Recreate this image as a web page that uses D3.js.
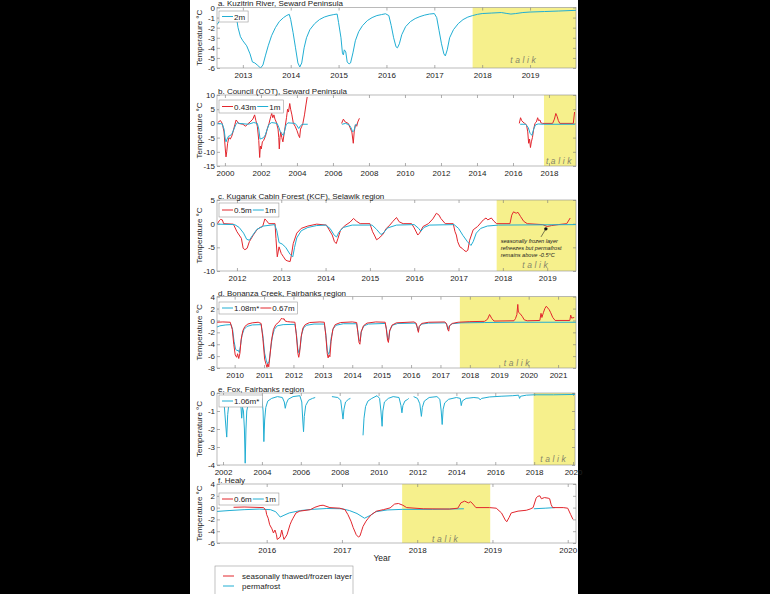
<!DOCTYPE html>
<html>
<head>
<meta charset="utf-8">
<script src="https://cdn.jsdelivr.net/npm/d3@7"></script>
<style>
  body { margin: 0; background: #000; }
  svg { display: block; font-family: "Liberation Sans", Arial, sans-serif; }
</style>
</head>
<body>
<svg id="chart" width="770" height="594"></svg>
<script>
// ---- data: [decimal year, temperature °C], null = gap in record ----

// a. Kuzitrin River, 2m
var kuzitrin2m = [[2012.46,-1.7],[2012.52,-1.3],[2012.6,-1.0],[2012.7,-0.8],[2012.8,-0.72],[2012.86,-0.8],[2012.9,-2.0],[2012.95,-2.9],[2013.0,-3.3],[2013.08,-3.8],[2013.15,-4.6],[2013.2,-5.4],[2013.25,-5.5],[2013.3,-5.7],[2013.37,-6.0],[2013.42,-5.7],[2013.47,-4.8],[2013.53,-3.8],[2013.6,-2.8],[2013.68,-2.0],[2013.76,-1.4],[2013.85,-1.0],[2013.92,-0.78],[2013.97,-0.68],[2014.0,-1.2],[2014.05,-2.5],[2014.1,-4.0],[2014.15,-5.5],[2014.19,-5.9],[2014.23,-5.5],[2014.28,-4.0],[2014.33,-3.0],[2014.4,-2.2],[2014.5,-1.6],[2014.6,-1.2],[2014.7,-0.95],[2014.8,-0.8],[2014.9,-0.7],[2014.97,-0.65],[2015.0,-1.5],[2015.05,-3.0],[2015.08,-4.5],[2015.1,-4.7],[2015.12,-4.2],[2015.15,-4.4],[2015.18,-5.4],[2015.22,-5.6],[2015.25,-5.5],[2015.3,-4.5],[2015.35,-3.3],[2015.42,-2.4],[2015.5,-1.8],[2015.6,-1.3],[2015.7,-1.0],[2015.8,-0.8],[2015.9,-0.7],[2015.98,-0.62],[2016.05,-0.8],[2016.1,-1.8],[2016.15,-3.0],[2016.2,-3.9],[2016.23,-4.0],[2016.27,-3.6],[2016.32,-2.7],[2016.4,-1.9],[2016.5,-1.4],[2016.6,-1.1],[2016.7,-0.9],[2016.8,-0.75],[2016.9,-0.65],[2017.0,-0.6],[2017.05,-1.0],[2017.1,-2.3],[2017.15,-3.6],[2017.2,-4.6],[2017.23,-4.8],[2017.27,-4.2],[2017.32,-3.0],[2017.4,-2.2],[2017.5,-1.6],[2017.6,-1.2],[2017.7,-0.95],[2017.8,-0.8],[2017.9,-0.68],[2018.0,-0.6],[2018.2,-0.55],[2018.4,-0.5],[2018.5,-0.58],[2018.6,-0.65],[2018.7,-0.6],[2018.85,-0.5],[2019.0,-0.45],[2019.3,-0.4],[2019.6,-0.35],[2019.96,-0.28]];

// b. Council (COT), 0.43m and 1m
var council043 = [[1999.6,0.3],[1999.75,1.0],[1999.85,0],[1999.95,-3],[2000.02,-9],[2000.06,-11.8],[2000.1,-10],[2000.15,-7],[2000.22,-5],[2000.3,-5.5],[2000.38,-4.5],[2000.45,-3],[2000.55,-0.5],[2000.62,1.2],[2000.68,0.8],[2000.75,0],[2001.0,-0.3],[2001.15,-1.0],[2001.25,-0.3],[2001.4,0.5],[2001.55,1.5],[2001.65,3.0],[2001.72,1.0],[2001.8,-1.0],[2001.88,-6],[2001.93,-12],[2001.97,-8],[2002.02,-9],[2002.08,-6.5],[2002.15,-6],[2002.25,-4.5],[2002.35,-2],[2002.45,0],[2002.55,2.5],[2002.6,3.5],[2002.66,2.0],[2002.72,3.0],[2002.78,1.5],[2002.85,0.5],[2002.95,-2],[2002.99,-5],[2003.02,-9],[2003.06,-5],[2003.1,-3],[2003.16,-5],[2003.22,-6.5],[2003.28,-4],[2003.35,-1],[2003.42,2],[2003.48,5],[2003.53,4],[2003.6,7],[2003.65,5],[2003.72,3],[2003.8,0],[2003.9,-1],[2004.0,-2.5],[2004.08,-4],[2004.15,-5],[2004.2,-2],[2004.27,-1],[2004.33,0],[2004.42,3],[2004.5,6.5],[2004.57,9.3],null,[2006.48,0],[2006.58,1.5],[2006.68,0.5],[2006.85,0],[2006.95,-1.5],[2007.05,-3],[2007.13,-7],[2007.18,-3],[2007.25,-0.5],[2007.32,-1],[2007.38,0.5],[2007.47,1.8],null,[2016.35,0],[2016.42,2.0],[2016.48,1.0],[2016.55,0.5],[2016.65,0],[2016.75,-0.5],[2016.82,-3],[2016.87,-7],[2016.92,-5.5],[2016.97,-8.5],[2017.02,-6.5],[2017.08,-5],[2017.15,-2],[2017.22,0],[2017.3,0.5],[2017.37,2.0],[2017.42,1.0],[2017.5,1.2],[2017.55,0.2],[2017.65,0],[2018.2,0],[2018.3,1.5],[2018.38,3.5],[2018.45,2.5],[2018.52,1.0],[2018.6,0],[2019.35,0],[2019.42,4.0]];
var council1m = [[1999.6,0],[1999.85,-0.2],[1999.95,-2],[2000.02,-5.5],[2000.06,-6.5],[2000.12,-5.5],[2000.2,-4.5],[2000.3,-4.3],[2000.4,-3.5],[2000.5,-2],[2000.6,-0.5],[2000.7,0.3],[2000.8,0],[2001.3,-0.3],[2001.6,0.3],[2001.8,0],[2001.88,-2],[2001.95,-5.5],[2002.05,-5.3],[2002.15,-5],[2002.25,-4],[2002.35,-2],[2002.45,-0.3],[2002.6,0.3],[2002.9,0],[2003.0,-1.5],[2003.08,-3],[2003.15,-3.5],[2003.25,-4.3],[2003.32,-2.5],[2003.4,-0.5],[2003.5,0.2],[2003.9,0],[2004.0,-0.8],[2004.1,-1.8],[2004.2,-0.8],[2004.3,-0.3],[2004.6,-0.3],null,[2006.5,-0.3],[2006.7,0],[2006.9,-0.5],[2007.0,-1.5],[2007.1,-3],[2007.17,-2.5],[2007.25,-0.5],[2007.35,-0.2],null,[2016.4,-0.3],[2016.7,-0.3],[2016.85,-1.5],[2016.95,-3.5],[2017.05,-4.2],[2017.15,-2],[2017.25,-0.5],[2017.4,-0.2],[2017.7,-0.3],[2019.44,-0.3]];

// c. Kugaruk Cabin Forest, 0.5m and 1m
var kcf05 = [[2011.56,0],[2011.6,0.6],[2011.63,0.9],[2011.67,0.8],[2011.7,0],[2011.92,-0.1],[2012.0,-1.7],[2012.05,-2.4],[2012.1,-3.1],[2012.14,-5.2],[2012.18,-5.5],[2012.23,-5.2],[2012.28,-3.8],[2012.37,-2.4],[2012.45,-1.3],[2012.52,-0.8],[2012.58,-0.6],[2012.63,1.0],[2012.67,0.6],[2012.72,0],[2012.86,0],[2012.88,-3.1],[2012.91,-7],[2012.95,-4.9],[2013.0,-6.3],[2013.05,-7],[2013.1,-7.7],[2013.15,-7.9],[2013.2,-8.0],[2013.23,-6.6],[2013.27,-4.2],[2013.35,-2.0],[2013.45,-1.0],[2013.6,-0.5],[2013.8,-0.1],[2014.02,-0.3],[2014.08,-1.3],[2014.15,-2.4],[2014.2,-3.8],[2014.24,-4.2],[2014.28,-3.1],[2014.34,-1.3],[2014.44,-0.4],[2014.55,0.3],[2014.63,1.1],[2014.7,0.5],[2014.78,0],[2015.0,0],[2015.06,-1.7],[2015.1,-2.4],[2015.15,-3.4],[2015.2,-3.1],[2015.29,-2.3],[2015.37,-1.0],[2015.45,-0.3],[2015.52,0.5],[2015.6,1.3],[2015.66,0.4],[2015.75,0],[2015.94,0],[2016.0,-0.9],[2016.08,-2.4],[2016.12,-2.0],[2016.2,-0.6],[2016.32,0],[2016.42,1.0],[2016.5,2.2],[2016.56,1.8],[2016.6,1.1],[2016.7,0],[2016.88,0],[2016.92,-1.7],[2016.95,-2.4],[2016.98,-3.8],[2017.03,-4.9],[2017.08,-5.2],[2017.12,-5.6],[2017.17,-5.9],[2017.21,-5.6],[2017.25,-3.5],[2017.33,-1.3],[2017.43,-0.6],[2017.56,0.8],[2017.62,1.2],[2017.66,0.8],[2017.74,1.2],[2017.8,0.5],[2017.86,0],[2018.16,0],[2018.2,1.8],[2018.24,2.5],[2018.3,2.2],[2018.34,2.4],[2018.4,1.5],[2018.47,0.5],[2018.55,0],[2018.9,-0.2],[2019.0,-0.6],[2019.1,-0.4],[2019.25,-0.2],[2019.44,0],[2019.52,1.2]];
var kcf1m = [[2011.56,-0.1],[2011.95,-0.2],[2012.05,-0.8],[2012.15,-2.0],[2012.22,-3.3],[2012.28,-3.5],[2012.35,-2.5],[2012.45,-1.2],[2012.6,-0.5],[2012.85,-0.2],[2012.9,-1.5],[2012.95,-4.0],[2013.02,-4.3],[2013.1,-5.0],[2013.2,-6.5],[2013.26,-7.0],[2013.3,-5],[2013.35,-3],[2013.45,-1.5],[2013.6,-0.8],[2013.8,-0.4],[2014.0,-0.3],[2014.1,-1.0],[2014.2,-2.5],[2014.25,-2.8],[2014.3,-1.8],[2014.4,-0.8],[2014.6,-0.3],[2015.05,-0.3],[2015.15,-1.2],[2015.25,-2.3],[2015.3,-2.0],[2015.4,-0.9],[2015.6,-0.3],[2016.0,-0.2],[2016.1,-1.0],[2016.15,-1.6],[2016.22,-0.8],[2016.35,-0.3],[2016.9,-0.2],[2017.0,-1.0],[2017.1,-2.5],[2017.2,-3.8],[2017.28,-4.6],[2017.33,-3.8],[2017.4,-2.0],[2017.5,-1.0],[2017.65,-0.5],[2017.9,-0.3],[2019.65,-0.2]];

// d. Bonanza Creek, 1.08m* and 0.67m
var bonanza108 = [[2009.4,-1.1],[2009.5,-0.9],[2009.7,-0.75],[2009.88,-0.7],[2009.93,-1.5],[2009.98,-3.5],[2010.03,-4.8],[2010.08,-5.1],[2010.12,-5.0],[2010.16,-5.4],[2010.2,-4.2],[2010.25,-2.5],[2010.32,-1.5],[2010.42,-1.0],[2010.6,-0.75],[2010.9,-0.7],[2010.96,-2.5],[2011.02,-5.5],[2011.08,-6.8],[2011.12,-7.3],[2011.17,-7.0],[2011.22,-5],[2011.28,-2.8],[2011.35,-1.5],[2011.45,-0.9],[2011.65,-0.7],[2012.05,-0.65],[2012.1,-2.2],[2012.15,-4.8],[2012.19,-5.5],[2012.23,-4.5],[2012.28,-2.3],[2012.35,-1.2],[2012.45,-0.8],[2012.7,-0.6],[2013.05,-0.6],[2013.1,-2.2],[2013.15,-5.0],[2013.19,-5.7],[2013.23,-5.3],[2013.28,-3],[2013.35,-1.4],[2013.45,-0.8],[2013.7,-0.55],[2014.15,-0.55],[2014.19,-1.8],[2014.23,-3.2],[2014.27,-3.5],[2014.31,-1.8],[2014.4,-0.9],[2014.55,-0.6],[2015.12,-0.5],[2015.16,-1.3],[2015.2,-2.9],[2015.24,-3.2],[2015.28,-1.6],[2015.37,-0.8],[2015.55,-0.5],[2016.15,-0.45],[2016.2,-1.0],[2016.24,-1.7],[2016.28,-1.0],[2016.37,-0.6],[2016.6,-0.45],[2017.18,-0.4],[2017.22,-0.8],[2017.26,-1.5],[2017.3,-0.9],[2017.4,-0.55],[2017.7,-0.4],[2018.5,-0.35],[2019.5,-0.3],[2021.61,-0.3]];
var bonanza067 = [[2009.4,-0.3],[2009.6,-0.25],[2009.85,-0.3],[2009.92,-1.5],[2009.97,-4],[2010.02,-5.8],[2010.07,-6.2],[2010.1,-5.6],[2010.14,-6.4],[2010.18,-5.5],[2010.22,-3.2],[2010.28,-1.7],[2010.35,-1.0],[2010.45,-0.6],[2010.6,-0.4],[2010.8,-0.3],[2010.9,-0.5],[2010.96,-3],[2011.02,-6.5],[2011.07,-7.4],[2011.1,-7.9],[2011.13,-7.3],[2011.16,-7.8],[2011.2,-6],[2011.25,-3.5],[2011.32,-1.5],[2011.4,-0.7],[2011.5,-0.3],[2011.56,0.1],[2011.6,0.4],[2011.64,0.2],[2011.68,0.3],[2011.72,-0.1],[2011.8,-0.2],[2011.9,-0.25],[2012.05,-0.3],[2012.1,-2.5],[2012.15,-5.5],[2012.18,-6.2],[2012.21,-5.4],[2012.26,-2.8],[2012.32,-1.3],[2012.4,-0.7],[2012.55,-0.35],[2012.9,-0.25],[2013.05,-0.3],[2013.1,-2.5],[2013.15,-5.6],[2013.18,-6.3],[2013.21,-5.8],[2013.24,-6.1],[2013.28,-3.5],[2013.34,-1.5],[2013.42,-0.7],[2013.6,-0.35],[2014.0,-0.25],[2014.15,-0.35],[2014.19,-2.0],[2014.23,-3.7],[2014.26,-4.0],[2014.3,-2.0],[2014.38,-0.9],[2014.5,-0.45],[2014.8,-0.25],[2015.12,-0.3],[2015.16,-1.5],[2015.2,-3.3],[2015.23,-3.7],[2015.27,-1.8],[2015.35,-0.8],[2015.5,-0.4],[2016.1,-0.25],[2016.18,-0.5],[2016.22,-1.4],[2016.25,-2.0],[2016.28,-1.0],[2016.36,-0.5],[2016.6,-0.3],[2017.15,-0.25],[2017.21,-0.6],[2017.25,-1.5],[2017.28,-1.8],[2017.31,-0.9],[2017.4,-0.5],[2017.6,-0.3],[2018.0,-0.2],[2018.5,-0.15],[2018.6,0.2],[2018.67,1.0],[2018.75,0.3],[2018.82,-0.1],[2019.5,-0.05],[2019.55,0.3],[2019.6,1.0],[2019.63,2.7],[2019.65,1.4],[2019.7,1.2],[2019.78,0.7],[2019.85,0.1],[2019.95,-0.05],[2020.38,0],[2020.42,1.2],[2020.45,0.5],[2020.5,1.3],[2020.55,2.0],[2020.6,2.4],[2020.65,2.1],[2020.7,1.8],[2020.75,1.3],[2020.82,0.5],[2020.9,0],[2021.4,0],[2021.43,0.9],[2021.46,0.4],[2021.55,0.5]];

// e. Fox, 1.06m*
var fox106 = [[2001.9,-0.3],[2002.05,-0.5],[2002.12,-1.5],[2002.19,-2.45],[2002.24,-1.2],[2002.3,-0.6],[2002.4,-0.4],[2002.6,-0.3],[2002.85,-0.3],[2002.92,-0.7],[2002.96,-1.4],[2003.0,-0.8],[2003.05,-1.0],[2003.1,-2.0],[2003.14,-3.9],[2003.18,-2.0],[2003.22,-1.0],[2003.3,-0.6],[2003.45,-0.35],[2003.7,-0.25],[2004.0,-0.3],[2004.06,-1.0],[2004.1,-2.7],[2004.14,-1.5],[2004.2,-0.8],[2004.3,-0.45],[2004.5,-0.3],[2004.8,-0.2],[2005.05,-0.25],[2005.15,-0.5],[2005.2,-0.85],[2005.25,-0.6],[2005.35,-0.35],[2005.6,-0.2],[2005.95,-0.15],[2006.05,-0.5],[2006.1,-1.5],[2006.14,-2.15],[2006.18,-1.3],[2006.25,-0.7],[2006.4,-0.4],[2006.6,-0.3],[2006.74,-0.25],null,[2007.6,-0.2],[2007.9,-0.25],[2008.05,-0.4],[2008.12,-1.0],[2008.17,-1.45],[2008.22,-0.9],[2008.3,-0.5],[2008.45,-0.35],[2008.55,-0.3],null,[2009.2,-2.35],[2009.25,-1.4],[2009.33,-0.75],[2009.45,-0.45],[2009.65,-0.3],[2009.92,-0.15],[2010.05,-0.3],[2010.12,-1.0],[2010.18,-1.85],[2010.22,-1.0],[2010.3,-0.5],[2010.5,-0.3],[2010.75,-0.2],[2011.05,-0.25],[2011.15,-0.7],[2011.2,-1.1],[2011.25,-0.7],[2011.35,-0.45],[2011.5,-0.35],[2011.55,-0.3],null,[2011.8,-0.2],[2012.0,-0.3],[2012.12,-0.6],[2012.2,-1.3],[2012.25,-0.8],[2012.35,-0.45],[2012.6,-0.25],[2013.0,-0.2],[2013.15,-0.35],[2013.22,-1.0],[2013.27,-1.75],[2013.32,-0.9],[2013.4,-0.55],[2013.6,-0.35],[2014.0,-0.25],[2014.2,-0.3],[2014.25,-0.7],[2014.3,-0.45],[2014.5,-0.3],[2014.9,-0.25],[2015.15,-0.28],[2015.22,-0.38],[2015.3,-0.3],[2015.7,-0.22],[2016.3,-0.18],[2016.9,-0.15],[2017.2,-0.12],[2017.25,-0.3],[2017.3,-0.18],[2017.6,-0.12],[2018.0,-0.1],[2019.0,-0.1],[2020.1,-0.08]];

// f. Healy, 0.6m and 1m
var healy06 = [[2015.56,0.05],[2015.7,0.1],[2015.96,0],[2015.99,-0.5],[2016.0,-1.2],[2016.02,-1.8],[2016.04,-2.9],[2016.07,-3.6],[2016.09,-4.3],[2016.11,-3.8],[2016.13,-4.6],[2016.14,-5.4],[2016.18,-5.0],[2016.2,-3.8],[2016.22,-4.9],[2016.23,-5.4],[2016.27,-4.6],[2016.31,-2.9],[2016.33,-2.3],[2016.35,-1.8],[2016.39,-0.9],[2016.44,-0.6],[2016.58,-0.35],[2016.64,0.05],[2016.71,0.35],[2016.75,0.4],[2016.84,0],[2016.97,-0.1],[2017.04,-0.35],[2017.08,-1.2],[2017.12,-2.3],[2017.15,-3.4],[2017.19,-4.6],[2017.22,-5.0],[2017.24,-4.8],[2017.26,-4.0],[2017.28,-3.2],[2017.32,-2.3],[2017.35,-1.8],[2017.39,-1.2],[2017.46,-0.6],[2017.55,-0.35],[2017.64,-0.05],[2017.7,0.6],[2017.75,0.7],[2017.81,0.4],[2017.86,0],[2018.08,-0.2],[2018.43,-0.25],[2018.54,-0.1],[2018.58,0.8],[2018.63,1.1],[2018.68,0.8],[2018.71,1.0],[2018.74,0.6],[2018.78,0],[2018.96,0],[2019.05,-0.1],[2019.12,-0.9],[2019.17,-2.1],[2019.19,-2.4],[2019.22,-1.7],[2019.25,-0.9],[2019.34,-0.6],[2019.45,-0.45],[2019.5,-0.25],[2019.54,0],[2019.58,1.6],[2019.6,1.9],[2019.63,2.0],[2019.65,1.5],[2019.69,1.7],[2019.74,1.6],[2019.76,1.5],[2019.78,0.5],[2019.8,0],[2019.94,0],[2020.0,-0.1],[2020.04,-1.2],[2020.07,-2.0]];
var healy1m = [[2015.34,-0.65],[2015.5,-0.5],[2015.7,-0.35],[2015.9,-0.25],[2016.05,-0.35],[2016.12,-0.7],[2016.18,-1.6],[2016.23,-1.3],[2016.3,-0.9],[2016.45,-0.5],[2016.6,-0.3],[2016.8,-0.15],[2017.0,-0.2],[2017.1,-0.5],[2017.2,-1.0],[2017.3,-1.8],[2017.38,-1.3],[2017.45,-0.7],[2017.6,-0.4],[2017.8,-0.3],[2018.2,-0.3],[2018.62,-0.2],null,[2019.55,-0.2],[2019.7,-0.1],[2019.83,0]];

// tick values
var aYTicks = [0,-1,-2,-3,-4,-5,-6], aXTicks = [2013,2014,2015,2016,2017,2018,2019];
var bYTicks = [10,5,0,-5,-10,-15], bXTicks = [2000,2002,2004,2006,2008,2010,2012,2014,2016,2018];
var cYTicks = [5,0,-5,-10], cXTicks = [2012,2013,2014,2015,2016,2017,2018,2019];
var dYTicks = [4,2,0,-2,-4,-6,-8], dXTicks = [2010,2011,2012,2013,2014,2015,2016,2017,2018,2019,2020,2021];
var eYTicks = [0,-1,-2,-3,-4], eXTicks = [2002,2004,2006,2008,2010,2012,2014,2016,2018,2020];
var fYTicks = [4,2,0,-2,-4,-6], fXTicks = [2016,2017,2018,2019,2020];

// talik periods
var aTalik = [2017.8, 2019.96], bTalik = [2017.72, 2019.5], cTalik = [2017.86, 2019.65],
    dTalik = [2017.66, 2021.61], eTalik = [2017.97, 2020.1], fTalik = [2017.8, 2018.97];

var RED = "#e2262d", CYAN = "#21aed3", TALIK = "#f6f08c";

var svg = d3.select("#chart");

// white page area
svg.append("rect").attr("x", 190).attr("y", 0).attr("width", 388).attr("height", 594).attr("fill", "#fff");

var panels = [
  {title: "a. Kuzitrin River, Seward Peninsula", xd: [2012.46, 2019.96], right: 576, yd: [-6, 0], top: 7.5, bottom: 68,
   yt: aYTicks, xt: aXTicks, talik: aTalik, tdy: 5, leg: {y: 11, h: 11, items: [["2m", CYAN]]},
   series: [[kuzitrin2m, CYAN]]},
  {title: "b. Council (COT), Seward Peninsula", xd: [1999.56, 2019.5], right: 576, yd: [-15, 10], top: 95, bottom: 166,
   yt: bYTicks, xt: bXTicks, talik: bTalik, tdy: 2, leg: {y: 100, h: 13, items: [["0.43m", RED], ["1m", CYAN]]},
   series: [[council043, RED], [council1m, CYAN]]},
  {title: "c. Kugaruk Cabin Forest (KCF), Selawik region", xd: [2011.55, 2019.65], right: 576, yd: [-10, 5], top: 200, bottom: 271,
   yt: cYTicks, xt: cXTicks, talik: cTalik, tdy: 3, leg: {y: 203, h: 14, items: [["0.5m", RED], ["1m", CYAN]]},
   series: [[kcf05, RED], [kcf1m, CYAN]]},
  {title: "d. Bonanza Creek, Fairbanks region", xd: [2009.4, 2021.61], right: 576, yd: [-8, 4], top: 296.7, bottom: 368,
   yt: dYTicks, xt: dXTicks, talik: dTalik, tdy: 2, leg: {y: 302, h: 12, items: [["1.08m*", CYAN], ["0.67m", RED]]},
   series: [[bonanza108, CYAN], [bonanza067, RED]]},
  {title: "e. Fox, Fairbanks region", xd: [2001.69, 2020.1], right: 575, yd: [-4, 0], top: 393, bottom: 465,
   yt: eYTicks, xt: eXTicks, talik: eTalik, tdy: 3, leg: {y: 395, h: 12, items: [["1.06m*", CYAN]]},
   series: [[fox106, CYAN]]},
  {title: "f. Healy", xd: [2015.34, 2020.11], right: 576, yd: [-6, 4], top: 484, bottom: 543,
   yt: fYTicks, xt: fXTicks, talik: fTalik, tdy: 1, leg: {y: 493, h: 12, items: [["0.6m", RED], ["1m", CYAN]]},
   series: [[healy1m, CYAN], [healy06, RED]]}
];

var LEFT = 217;
var plain = function(d) { return String(d); };   // hyphen minus, no decimals

panels.forEach(function(p, i) {
  var x = d3.scaleLinear().domain(p.xd).range([LEFT, p.right]);
  var y = d3.scaleLinear().domain(p.yd).range([p.bottom, p.top]);
  var g = svg.append("g");

  // talik shading
  g.append("rect")
    .attr("x", x(p.talik[0])).attr("y", p.top)
    .attr("width", x(p.talik[1]) - x(p.talik[0])).attr("height", p.bottom - p.top)
    .attr("fill", TALIK);

  g.append("text")
    .attr("x", (x(p.talik[0]) + x(p.talik[1])) / 2)
    .attr("y", p.bottom - p.tdy)
    .attr("text-anchor", "middle")
    .attr("font-size", 8.5).attr("font-style", "italic")
    .attr("letter-spacing", 2.6)
    .attr("fill", "#85856a")
    .text("talik");

  // axes (ticks inside, on all four sides)
  function styleAxis(sel) {
    sel.select(".domain").remove();
    sel.selectAll(".tick line").attr("stroke", "#777").attr("stroke-width", 0.6);
    sel.selectAll(".tick text").attr("fill", "#222").attr("font-size", 8);
  }
  g.append("g").attr("transform", "translate(" + LEFT + ",0)")
    .call(d3.axisLeft(y).tickValues(p.yt).tickFormat(plain).tickSize(-3).tickPadding(2)).call(styleAxis);
  g.append("g").attr("transform", "translate(" + p.right + ",0)")
    .call(d3.axisRight(y).tickValues(p.yt).tickSize(-3).tickFormat("")).call(styleAxis);
  g.append("g").attr("transform", "translate(0," + p.bottom + ")")
    .call(d3.axisBottom(x).tickValues(p.xt).tickFormat(plain).tickSize(-3).tickPadding(4)).call(styleAxis);
  g.append("g").attr("transform", "translate(0," + p.top + ")")
    .call(d3.axisTop(x).tickValues(p.xt).tickSize(-3).tickFormat("")).call(styleAxis);

  // data lines
  var clipId = "clip" + i;
  svg.append("clipPath").attr("id", clipId).append("rect")
    .attr("x", LEFT).attr("y", p.top).attr("width", p.right - LEFT).attr("height", p.bottom - p.top);
  var line = d3.line()
    .defined(function(d) { return d != null; })
    .x(function(d) { return x(d[0]); })
    .y(function(d) { return y(d[1]); });
  p.series.forEach(function(s) {
    g.append("path").datum(s[0])
      .attr("clip-path", "url(#" + clipId + ")")
      .attr("fill", "none").attr("stroke", s[1]).attr("stroke-width", 1)
      .attr("stroke-linejoin", "round")
      .attr("d", line);
  });

  // box
  g.append("rect").attr("x", LEFT).attr("y", p.top)
    .attr("width", p.right - LEFT).attr("height", p.bottom - p.top)
    .attr("fill", "none").attr("stroke", "#8c8c8c").attr("stroke-width", 0.6);

  // title
  g.append("text").attr("x", LEFT + 1).attr("y", p.top - 1.2)
    .attr("font-size", 8).attr("fill", "#222").text(p.title);

  // y label
  g.append("text")
    .attr("transform", "translate(202," + ((p.top + p.bottom) / 2) + ") rotate(-90)")
    .attr("text-anchor", "middle").attr("font-size", 8).attr("fill", "#222")
    .text("Temperature °C");

  // legend box
  var lg = g.append("g");
  var box = lg.append("rect").attr("x", LEFT + 2).attr("y", p.leg.y).attr("height", p.leg.h)
    .attr("fill", "#fff").attr("stroke", "#999").attr("stroke-width", 0.6);
  var cx = LEFT + 5, my = p.leg.y + p.leg.h / 2;
  p.leg.items.forEach(function(it) {
    lg.append("line").attr("x1", cx).attr("x2", cx + 11).attr("y1", my).attr("y2", my)
      .attr("stroke", it[1]).attr("stroke-width", 1);
    var t = lg.append("text").attr("x", cx + 12).attr("y", my + 3)
      .attr("font-size", 8).attr("fill", "#222").text(it[0]);
    cx += 12 + t.node().getComputedTextLength() + 1;
  });
  box.attr("width", cx + 2 - (LEFT + 2));

  // annotation in panel c
  if (i === 2) {
    var ax = 2018.97, ay = -1.1;
    g.append("line").attr("x1", x(ax)).attr("y1", y(ay)).attr("x2", x(2018.86)).attr("y2", y(-2.8))
      .attr("stroke", "#222").attr("stroke-width", 0.6);
    g.append("circle").attr("cx", x(ax)).attr("cy", y(ay)).attr("r", 1.7).attr("fill", "#111");
    var notes = ["seasonally frozen layer", "refreezes but permafrost", "remains above -0.5°C"];
    var noteY = [-4.0, -5.5, -7.0];
    notes.forEach(function(n, k) {
      g.append("text").attr("x", x(2017.95)).attr("y", y(noteY[k]))
        .attr("font-size", 5.6).attr("font-style", "italic").attr("fill", "#222").text(n);
    });
  }
});

// x label for bottom panel
svg.append("text").attr("x", 382).attr("y", 561).attr("text-anchor", "middle")
  .attr("font-size", 8.5).attr("fill", "#222").text("Year");

// bottom legend
var key = svg.append("g");
key.append("rect").attr("x", 215).attr("y", 566).attr("width", 138).attr("height", 40)
  .attr("fill", "#fff").attr("stroke", "#999").attr("stroke-width", 0.6);
[["seasonally thawed/frozen layer", RED, 576], ["permafrost", CYAN, 586]].forEach(function(k) {
  key.append("line").attr("x1", 223).attr("x2", 234).attr("y1", k[2]).attr("y2", k[2])
    .attr("stroke", k[1]).attr("stroke-width", 1);
  key.append("text").attr("x", 242).attr("y", k[2] + 3).attr("font-size", 8).attr("fill", "#222").text(k[0]);
});
</script>
</body>
</html>
